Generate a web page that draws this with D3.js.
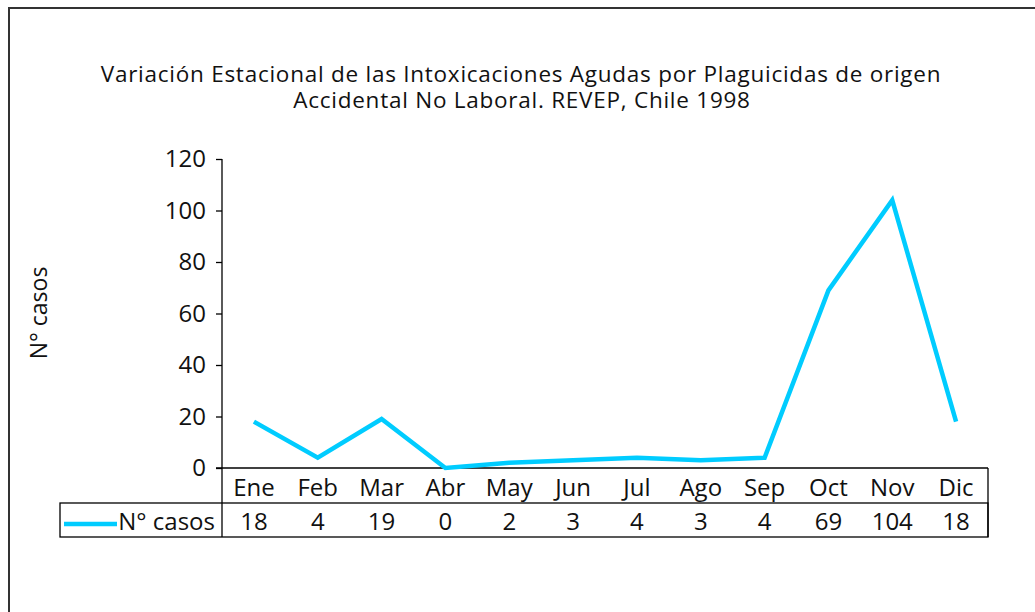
<!DOCTYPE html>
<html lang="es">
<head>
<meta charset="UTF-8">
<title>Variación Estacional</title>
<style>
    body {margin: 0; background: #fff;}
    svg {font-family: "Open Sans", "DejaVu Sans", sans-serif;}
</style>
</head>
<body>
<div id="viz"></div>
<script src="https://d3js.org/d3.v7.min.js"></script>
<script>

    var months = ["Ene", "Feb", "Mar", "Abr", "May", "Jun", "Jul", "Ago", "Sep", "Oct", "Nov", "Dic"];
    var casos = [18, 4, 19, 0, 2, 3, 4, 3, 4, 69, 104, 18];
    var yTicks = [0, 20, 40, 60, 80, 100, 120];
    var seriesName = "N° casos";

    var width = 1035,
        height = 612;

    var svg = d3.select("#viz").append("svg")
        .attr("width", width)
        .attr("height", height);

    // outer frame (right and bottom edges fall outside the picture)
    svg.append("path")
        .attr("d", "M9,640V8H1050")
        .attr("fill", "none")
        .attr("stroke", "#333")
        .attr("stroke-width", 2);

    svg.append("text")
        .attr("x", 521).attr("y", 82)
        .attr("text-anchor", "middle")
        .attr("font-size", 22.5)
        .attr("letter-spacing", 0.75)
        .attr("fill", "#111")
        .text("Variación Estacional de las Intoxicaciones Agudas por Plaguicidas de origen");
    svg.append("text")
        .attr("x", 522).attr("y", 108)
        .attr("text-anchor", "middle")
        .attr("font-size", 22.5)
        .attr("letter-spacing", 0.75)
        .attr("fill", "#111")
        .text("Accidental No Laboral. REVEP, Chile 1998");

    var plotLeft = 222, plotRight = 988, plotTop = 159, plotBottom = 468;

    var x = d3.scaleBand().domain(months).range([plotLeft, plotRight]);
    var y = d3.scaleLinear().domain([0, 120]).range([plotBottom, plotTop]);

    var yAxis = svg.append("g")
        .attr("transform", "translate(" + plotLeft + ",0)")
        .call(d3.axisLeft(y).tickValues(yTicks).tickSize(6).tickPadding(10));
    yAxis.selectAll("path, line").attr("stroke", "#000").attr("stroke-width", 1.3);
    yAxis.select(".domain").attr("d", "M0," + plotTop + "V" + plotBottom);
    yAxis.selectAll("text")
        .attr("font-family", "'Open Sans', sans-serif")
        .attr("font-size", 24)
        .attr("fill", "#111");

    svg.append("text")
        .attr("transform", "translate(47,313) rotate(-90)")
        .attr("text-anchor", "middle")
        .attr("font-size", 23)
        .attr("fill", "#111")
        .text(seriesName);

    // data table under the axis
    var rowSep = 503, tableBottom = 537, legendLeft = 60;
    var g = svg.append("g").attr("stroke", "#000").attr("stroke-width", 1.3).attr("fill", "none");
    g.append("line").attr("x1", plotLeft - 6).attr("x2", plotRight).attr("y1", plotBottom).attr("y2", plotBottom);
    g.append("line").attr("x1", plotRight).attr("x2", plotRight).attr("y1", plotBottom).attr("y2", tableBottom);
    g.append("line").attr("x1", plotLeft).attr("x2", plotLeft).attr("y1", plotBottom).attr("y2", tableBottom);
    g.append("rect").attr("x", legendLeft).attr("y", rowSep)
        .attr("width", plotRight - legendLeft).attr("height", tableBottom - rowSep);

    svg.selectAll(".mlabel").data(months).enter().append("text")
        .attr("class", "mlabel")
        .attr("x", function(d) { return x(d) + x.bandwidth() / 2; })
        .attr("y", 496)
        .attr("text-anchor", "middle")
        .attr("font-size", 24)
        .attr("fill", "#111")
        .text(function(d) { return d; });

    svg.selectAll(".vlabel").data(casos).enter().append("text")
        .attr("class", "vlabel")
        .attr("x", function(d, i) { return x(months[i]) + x.bandwidth() / 2; })
        .attr("y", 530)
        .attr("text-anchor", "middle")
        .attr("font-size", 24)
        .attr("fill", "#111")
        .text(function(d) { return d; });

    svg.append("line")
        .attr("x1", 64).attr("x2", 117).attr("y1", 524).attr("y2", 524)
        .attr("stroke", "#00CCFF").attr("stroke-width", 4.5);
    svg.append("text")
        .attr("x", 215).attr("y", 530)
        .attr("text-anchor", "end")
        .attr("font-size", 24)
        .attr("fill", "#111")
        .text(seriesName);

    var line = d3.line()
        .x(function(d, i) { return x(months[i]) + x.bandwidth() / 2; })
        .y(function(d) { return y(d); });

    svg.append("path")
        .datum(casos)
        .attr("d", line)
        .attr("fill", "none")
        .attr("stroke", "#00CCFF")
        .attr("stroke-width", 4.5)
        .attr("stroke-linejoin", "miter");

</script>
</body>
</html>
